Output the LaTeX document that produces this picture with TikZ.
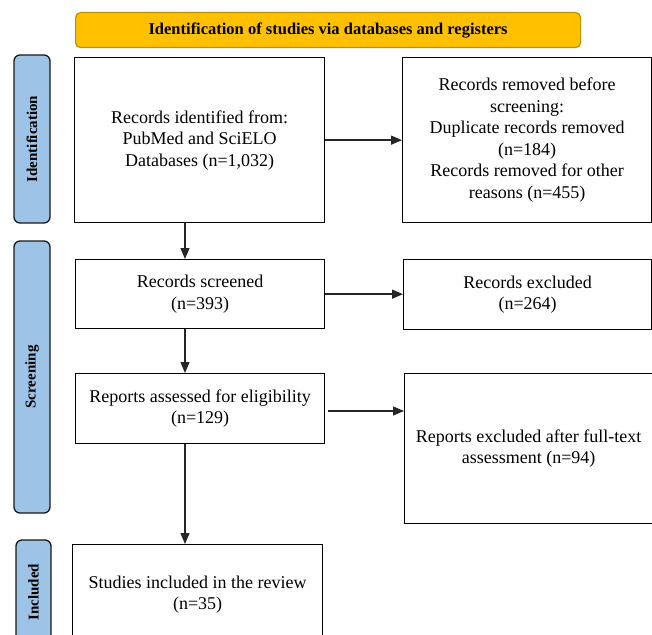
\documentclass[tikz,border=0pt]{standalone}
\usepackage{fontspec}
\setmainfont{Liberation Serif}
\usetikzlibrary{arrows.meta,calc}
\definecolor{gold}{HTML}{FFC000}
\definecolor{golddark}{HTML}{BF9000}
\definecolor{sideblue}{HTML}{9DC3E6}
\tikzset{
  box/.style={draw=black, line width=1.3pt, fill=white, align=center, inner sep=0pt,
    anchor=north west, font=\fontsize{18}{21.5}\selectfont},
  side/.style={draw=black!90, line width=1.3pt, fill=sideblue, rounded corners=6pt,
    inner sep=0pt, rotate=90, font=\bfseries\fontsize{15}{18}\selectfont},
  banner/.style={draw=golddark, line width=1.2pt, fill=gold, rounded corners=5pt,
    inner sep=0pt, anchor=north west, font=\bfseries\fontsize{16.5}{19}\selectfont},
  arr/.style={draw=black!85, line width=1.4pt, -{Triangle[length=11pt,width=9pt]}}
}
\begin{document}
\begin{tikzpicture}[x=1pt,y=-1pt]
\useasboundingbox (0,0) rectangle (652,634);
\clip (0,0) rectangle (652,634);
\fill[white] (0,0) rectangle (652,634);

\node[banner, minimum width=505pt, minimum height=35pt] (ban) at (75,12)
  {Identification of studies via databases and registers};

\node[side, minimum width=168pt, minimum height=36pt] (idlab) at (32,139) {Identification};
\node[side, minimum width=272pt, minimum height=36pt] (scrlab) at (32,377) {Screening};
\node[side, minimum width=104pt, minimum height=35pt] (inclab) at (33.5,592) {Included};

\node[box, minimum width=250pt, minimum height=165pt] (b1) at (74,57)
  {Records identified from:\\PubMed and SciELO\\Databases (n=1,032)};
\node[box, minimum width=249pt, minimum height=165pt] (b2) at (402,57)
  {Records removed before\\screening:\\Duplicate records removed\\(n=184)\\Records removed for other\\reasons (n=455)};
\node[box, minimum width=249pt, minimum height=69pt] (b3) at (75,259)
  {Records screened\\(n=393)};
\node[box, minimum width=248pt, minimum height=70pt] (b4) at (403,259)
  {Records excluded\\(n=264)};
\node[box, minimum width=249pt, minimum height=70pt] (b5) at (75,373)
  {Reports assessed for eligibility\\(n=129)};
\node[box, minimum width=248pt, minimum height=150pt] (b6) at (404,373)
  {Reports excluded after full-text\\assessment (n=94)};
\node[box, minimum width=250pt, minimum height=100pt] (b7) at (72,544)
  {Studies included in the review\\(n=35)};

\coordinate (colx) at (185,0);
\coordinate (r3) at (0,411);
\draw[arr] (b1.south -| colx) -- (b3.north -| colx);
\draw[arr] (b3.south -| colx) -- (b5.north -| colx);
\draw[arr] (b5.south -| colx) -- (b7.north -| colx);
\draw[arr] (b1.east) -- (b2.west |- b1.east);
\draw[arr] (b3.east) -- (b4.west |- b3.east);
\draw[arr] ([xshift=3pt]b5.east |- r3) -- (b6.west |- r3);
\end{tikzpicture}
\end{document}
